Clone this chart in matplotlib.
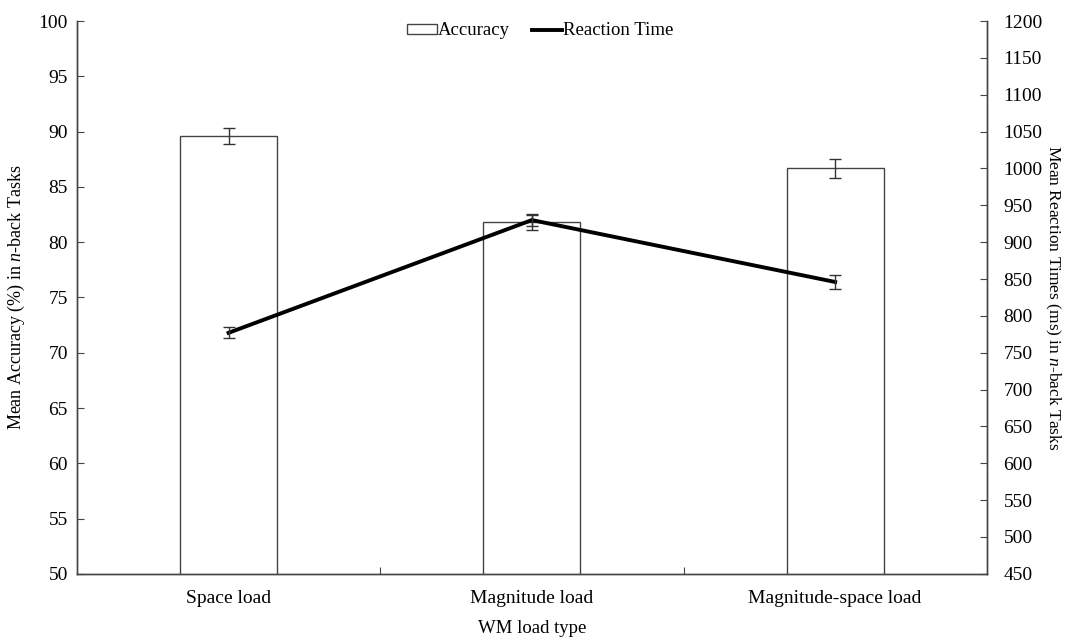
import numpy as np
import matplotlib
matplotlib.use('Agg')
import matplotlib.pyplot as plt
from matplotlib.ticker import MultipleLocator, FixedLocator

plt.rcParams['font.family'] = 'Liberation Serif'
plt.rcParams['mathtext.fontset'] = 'custom'
plt.rcParams['mathtext.rm'] = 'Liberation Serif'
plt.rcParams['mathtext.it'] = 'Liberation Serif:italic'
plt.rcParams['font.size'] = 14

# data
categories = ['Space load', 'Magnitude load', 'Magnitude-space load']
accuracy = [89.6, 81.8, 86.7]
accuracy_err = [0.75, 0.7, 0.85]
reaction_time = [777, 930, 846]
reaction_err = [7.5, 8, 9]

x = np.arange(len(categories))

fig = plt.figure(figsize=(10.68, 6.39), dpi=100)
ax = fig.add_axes([0.072, 0.102, 0.852, 0.865])
ax2 = ax.twinx()

bars = ax.bar(x, accuracy, width=0.32, color='white', edgecolor='#444444',
              linewidth=1.0, label='Accuracy', zorder=2)
ax.errorbar(x, accuracy, yerr=accuracy_err, fmt='none', ecolor='#333333',
            elinewidth=1.0, capsize=4, capthick=1.0, zorder=3)

line, = ax2.plot(x, reaction_time, color='black', linewidth=2.8,
                 label='Reaction Time', zorder=4)
ax2.errorbar(x, reaction_time, yerr=reaction_err, fmt='none', ecolor='#333333',
             elinewidth=1.0, capsize=4, capthick=1.0, zorder=5)

ax.set_xlim(-0.5, 2.5)
ax.set_ylim(50, 100)
ax.yaxis.set_major_locator(MultipleLocator(5))
ax2.set_ylim(450, 1200)
ax2.yaxis.set_major_locator(MultipleLocator(50))

ax.set_xticks(x)
ax.set_xticklabels(categories)
ax.xaxis.set_minor_locator(FixedLocator([0.5, 1.5]))
ax.tick_params(axis='x', which='major', length=0, pad=12)
ax.tick_params(axis='x', which='minor', direction='in', length=5, width=0.8, color='#444444')
ax.tick_params(axis='y', direction='in', length=5, width=0.8, color='#444444', pad=6.5)
ax2.tick_params(axis='y', direction='in', length=5, width=0.8, color='#444444', pad=12)

for a in (ax, ax2):
    a.spines['top'].set_visible(False)
    for s in ('left', 'right', 'bottom'):
        a.spines[s].set_color('#444444')
        a.spines[s].set_linewidth(1.0)

ax.set_xlabel('WM load type', fontsize=13.5, labelpad=9)
ax.set_ylabel('Mean Accuracy (%) in $n$-back Tasks', fontsize=13, labelpad=8)
ax2.set_ylabel('Mean Reaction Times (ms) in $n$-back Tasks', fontsize=12.5,
               rotation=270, labelpad=14)

ax.legend([bars, line], ['Accuracy', 'Reaction Time'], loc='upper center',
          bbox_to_anchor=(0.509, 1.028), ncol=2, frameon=False, handlelength=1.6,
          handleheight=0.45, handletextpad=0.05, columnspacing=1.2, fontsize=13.5)

plt.savefig('out.png', dpi=100)
plt.close()
